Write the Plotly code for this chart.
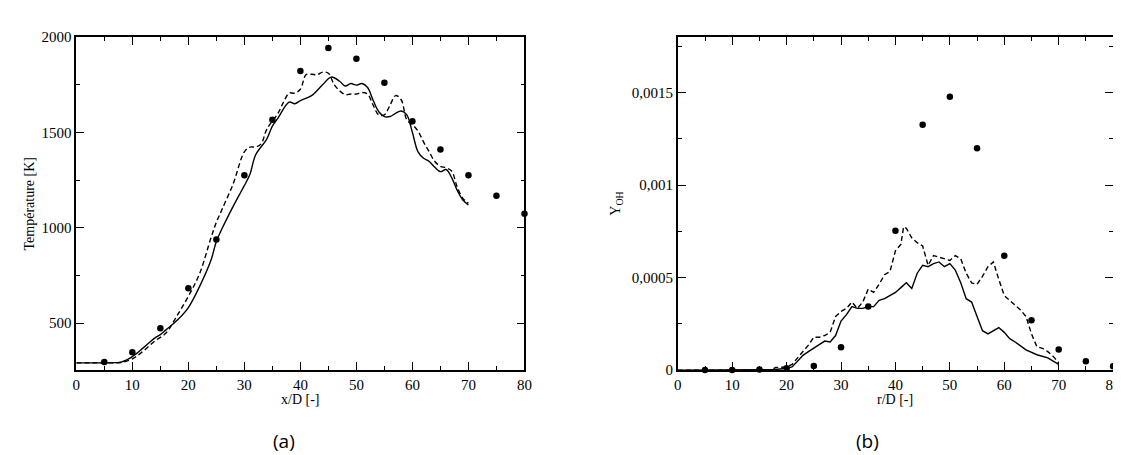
import plotly.graph_objects as go

# ---------------- data: panel (a) temperature ----------------
exp_x = [5, 10, 15, 20, 25, 30, 35, 40, 45, 50, 55, 60, 65, 70, 75, 80]
exp_T = [296, 347, 473, 683, 939, 1276, 1567, 1823, 1943, 1887, 1761, 1559, 1411, 1276, 1168, 1074]

solid_x = [0, 2, 4, 6, 7, 8, 10, 12, 14, 15, 16, 18, 20, 22, 24, 25, 26, 28, 30, 31, 32, 34, 35, 36,
           38, 39, 40, 42, 44, 45.5, 47, 48, 49, 50, 51, 52, 53, 54, 55, 56, 57, 58, 59, 60, 61, 62,
           63, 64, 65, 66, 67, 68, 69, 70]
solid_T = [292, 292, 292, 292, 293, 296, 325, 372, 422, 440, 465, 515, 582, 692, 827, 928, 995, 1113,
           1222, 1281, 1382, 1466, 1534, 1576, 1660, 1651, 1668, 1694, 1752, 1791, 1769, 1744, 1757,
           1749, 1757, 1736, 1668, 1609, 1584, 1584, 1601, 1613, 1593, 1500, 1399, 1365, 1348, 1318,
           1295, 1306, 1264, 1197, 1146, 1121]

dash_x = [0, 2, 4, 6, 8, 10, 12, 14, 16, 18, 20, 22, 24, 25, 26, 28, 30, 31, 32, 33, 34, 36, 37, 38,
          39, 40, 41, 42, 43, 44, 45, 46, 47, 48, 49, 50, 51, 52, 53, 54, 55, 56, 57, 58, 59, 60, 61,
          62, 63, 64, 65, 66, 67, 68, 69, 70]
dash_T = [292, 292, 292, 292, 294, 313, 355, 406, 448, 540, 641, 759, 944, 1029, 1096, 1231, 1399,
          1424, 1424, 1441, 1517, 1601, 1660, 1707, 1707, 1727, 1803, 1806, 1803, 1817, 1811, 1753,
          1719, 1699, 1702, 1702, 1710, 1702, 1643, 1593, 1593, 1643, 1694, 1672, 1567, 1542, 1508,
          1450, 1399, 1348, 1323, 1315, 1298, 1214, 1155, 1130]

# ---------------- data: panel (b) OH mass fraction ----------------
exp_r = [5, 10, 15, 20, 25, 30, 35, 40, 45, 50, 55, 60, 65, 70, 75, 80]
exp_OH = [0.0, 0.0, 0.000003, 0.00001, 0.0000225, 0.000123, 0.000344, 0.000754, 0.001327, 0.001478,
          0.001199, 0.000619, 0.00027, 0.000111, 0.0000484, 0.0000208]

solid_r = [0, 5, 10, 15, 17, 18, 20, 21, 22, 23, 24, 25, 26, 27, 28, 29, 30, 31, 32, 33, 34, 35, 36,
           37, 38, 39, 40, 41, 42, 43, 44, 45, 46, 47, 48, 49, 50, 51, 52, 53, 54, 55, 56, 57, 58, 59,
           60, 61, 62, 64, 66, 68, 69, 70]
solid_OH = [0, 0, 0, 0, 0, 0.000003, 0.00001, 0.000017, 0.000048, 0.00008, 0.0001, 0.000118,
            0.000135, 0.000157, 0.000152, 0.000187, 0.000265, 0.0003, 0.000343, 0.000334, 0.000334,
            0.000343, 0.000343, 0.000377, 0.000386, 0.000403, 0.00042, 0.000446, 0.000472, 0.000441,
            0.000524, 0.000567, 0.000559, 0.000576, 0.000585, 0.000559, 0.000576, 0.000541, 0.000472,
            0.000386, 0.000368, 0.00029, 0.000213, 0.000196, 0.000213, 0.00023, 0.000204, 0.00017,
            0.000152, 0.000109, 0.000083, 0.000066, 0.000048, 0.000031]

dash_r = [0, 5, 10, 15, 17, 18, 19, 20, 21, 22, 23, 24, 25, 26, 27, 28, 29, 30, 31, 32, 33, 34, 35,
          36, 37, 38, 39, 40, 41, 41.5, 42, 43, 44, 45, 46, 47, 48, 49, 50, 51, 52, 53, 54, 55, 56,
          57, 58, 59, 60, 61, 62, 63, 64, 65, 66, 67, 68, 69, 70]
dash_OH = [0, 0, 0, 0, 0, 0.000014, 0.000017, 0.000017, 0.000031, 0.000066, 0.0001, 0.000135,
           0.000178, 0.000178, 0.000187, 0.000204, 0.00029, 0.000317, 0.000334, 0.000368, 0.000334,
           0.000368, 0.000438, 0.00042, 0.000464, 0.000516, 0.000533, 0.000645, 0.00068, 0.000775,
           0.000767, 0.000715, 0.000689, 0.000671, 0.000567, 0.000619, 0.000611, 0.000602, 0.000593,
           0.000619, 0.000602, 0.000524, 0.000472, 0.000464, 0.000507, 0.000559, 0.000585, 0.00049,
           0.000403, 0.000377, 0.000351, 0.000325, 0.00029, 0.000196, 0.000126, 0.000118, 0.0001,
           0.000074, 0.00004]

x_ticks = [0, 10, 20, 30, 40, 50, 60, 70, 80]
T_ticks = [500, 1000, 1500, 2000]
OH_ticks = [0, 0.0005, 0.001, 0.0015]
OH_ticklabels = ["0", "0,0005", "0,001", "0,0015"]

# ---------------- figure ----------------
W, H = 1121, 455
fig = go.Figure()

line_solid = dict(color="black", width=1.4)
line_dash = dict(color="black", width=1.4, dash="5px,3px")
mk = dict(color="black", size=6.5, symbol="circle")

fig.add_trace(go.Scatter(x=solid_x, y=solid_T, mode="lines", line=line_solid, line_shape="spline",
                         xaxis="x", yaxis="y", showlegend=False))
fig.add_trace(go.Scatter(x=dash_x, y=dash_T, mode="lines", line=line_dash, line_shape="spline",
                         xaxis="x", yaxis="y", showlegend=False))
fig.add_trace(go.Scatter(x=exp_x, y=exp_T, mode="markers", marker=mk, cliponaxis=False,
                         xaxis="x", yaxis="y", showlegend=False))

fig.add_trace(go.Scatter(x=solid_r, y=solid_OH, mode="lines", line=line_solid,
                         xaxis="x2", yaxis="y2", showlegend=False))
fig.add_trace(go.Scatter(x=dash_r, y=dash_OH, mode="lines", line=line_dash,
                         xaxis="x2", yaxis="y2", showlegend=False))
fig.add_trace(go.Scatter(x=exp_r, y=exp_OH, mode="markers", marker=mk, cliponaxis=False,
                         xaxis="x2", yaxis="y2", showlegend=False))

def px_x(p):
    return p / W

def px_y(p):
    return 1 - p / H

SERIF = "Liberation Serif, Times New Roman, serif"
serif = dict(family=SERIF, size=14, color="black")
tickfont = dict(family=SERIF, size=15, color="black")
axis_common = dict(showline=True, mirror="ticks", linecolor="black", linewidth=1.5,
                   ticks="inside", ticklen=8, tickwidth=1.2, tickcolor="black",
                   showgrid=False, zeroline=False, tickfont=tickfont)

top, bottom = 22, 367
fig.update_layout(
    width=W, height=H, margin=dict(l=0, r=0, t=0, b=0),
    font=dict(family=SERIF, size=14, color="black"),
    paper_bgcolor="white", plot_bgcolor="white",
    xaxis=dict(domain=[px_x(65), px_x(518)], range=[0, 80], tickvals=x_ticks,
               minor=dict(ticks="inside", ticklen=4, dtick=5, tick0=0, tickcolor="black"),
               anchor="y", **axis_common),
    yaxis=dict(domain=[px_y(bottom), px_y(top)], range=[254, 2000], tickvals=T_ticks,
               minor=dict(ticks="inside", ticklen=4, dtick=250, tick0=0, tickcolor="black"),
               anchor="x", **axis_common),
    xaxis2=dict(domain=[px_x(673), px_x(1113)], range=[0, 80], tickvals=x_ticks,
                minor=dict(ticks="inside", ticklen=4, dtick=5, tick0=0, tickcolor="black"),
                anchor="y2", **axis_common),
    yaxis2=dict(domain=[px_y(bottom), px_y(top)], range=[0, 0.0018], tickvals=OH_ticks,
                ticktext=OH_ticklabels,
                minor=dict(ticks="inside", ticklen=4, dtick=0.00025, tick0=0, tickcolor="black"),
                anchor="x2", **axis_common),
)

sans = dict(family="Open Sans", size=19, color="black")
ann = [
    dict(text="Température [K]", x=px_x(18), y=px_y((top + bottom) / 2), textangle=-90,
         font=serif),
    dict(text="x/D [-]", x=px_x(291.5), y=px_y(397), font=serif),
    dict(text="Y<sub>OH</sub>", x=px_x(611), y=px_y(194), textangle=-90, font=serif),
    dict(text="r/D [-]", x=px_x(893), y=px_y(397), font=serif),
    dict(text="(a)", x=px_x(275), y=px_y(440), font=sans),
    dict(text="(b)", x=px_x(865), y=px_y(440), font=sans),
]
for a in ann:
    a.update(xref="paper", yref="paper", showarrow=False, xanchor="center", yanchor="middle")
fig.update_layout(annotations=ann)

fig.write_html("out.html")
